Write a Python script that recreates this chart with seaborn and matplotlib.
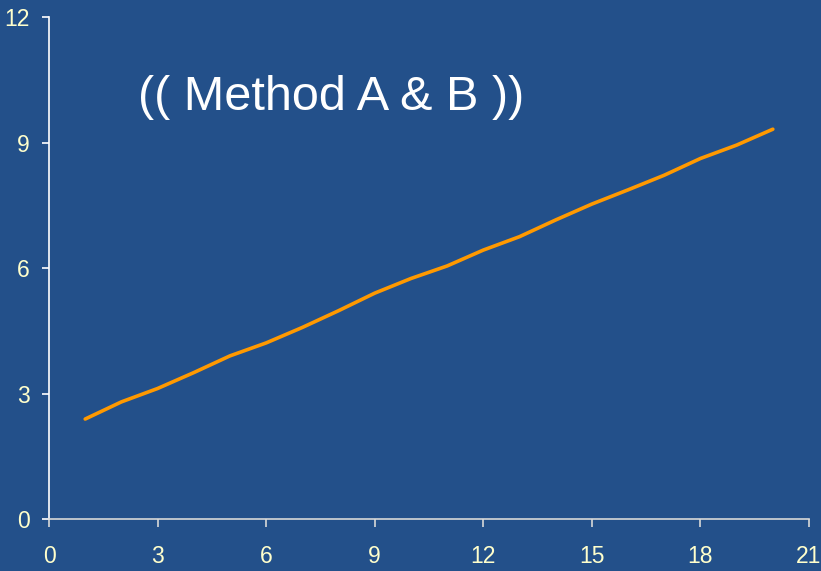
import matplotlib
matplotlib.use("Agg")
import matplotlib.pyplot as plt
import seaborn as sns
import pandas as pd

# Series values
x_values = [1, 2, 3, 4, 5, 6, 7, 8, 9, 10, 11, 12, 13, 14, 15, 16, 17, 18, 19, 20]
y_values = [2.39, 2.80, 3.12, 3.50, 3.90, 4.21, 4.58, 4.98, 5.40, 5.75,
            6.05, 6.43, 6.75, 7.15, 7.53, 7.87, 8.22, 8.62, 8.94, 9.32]
x_ticks = [0, 3, 6, 9, 12, 15, 18, 21]
y_ticks = [0, 3, 6, 9, 12]
title_text = "(( Method A & B ))"

bg = "#23508A"
tick_color = "#FFFFCC"

sns.set_theme(style="ticks")
plt.rcParams["font.family"] = ["Liberation Sans Narrow", "Liberation Sans", "DejaVu Sans"]

df = pd.DataFrame({"x": x_values, "y": y_values})

fig = plt.figure(figsize=(8.21, 5.71), dpi=100, facecolor=bg)
ax = fig.add_axes([0.0597, 0.0911, 0.9257, 0.8789])
ax.set_facecolor(bg)

sns.lineplot(data=df, x="x", y="y", ax=ax, color="#FF9900", linewidth=2.6,
             solid_capstyle="round")

ax.set_xlim(0, 21)
ax.set_ylim(0, 12)
ax.set_xticks(x_ticks)
ax.set_yticks(y_ticks)
ax.set_xlabel("")
ax.set_ylabel("")

for side in ("top", "right"):
    ax.spines[side].set_visible(False)
ax.spines["left"].set_color("#FFFFFF")
ax.spines["bottom"].set_color("#D8D8D8")
ax.spines["left"].set_linewidth(1.2)
ax.spines["bottom"].set_linewidth(1.2)

ax.tick_params(axis="y", direction="out", length=5, width=1.2, color="#FFFFFF",
               labelcolor=tick_color, labelsize=16.5, pad=9)
ax.tick_params(axis="x", direction="out", length=6, width=1.2, color="#D8D8D8",
               labelcolor=tick_color, labelsize=16.5, pad=13)

fig.text(138 / 821, 1 - 98 / 571, title_text, color="white", fontsize=35,
         family=["Liberation Sans", "DejaVu Sans"], ha="left", va="center")

fig.savefig("out.png", dpi=100, facecolor=bg)
